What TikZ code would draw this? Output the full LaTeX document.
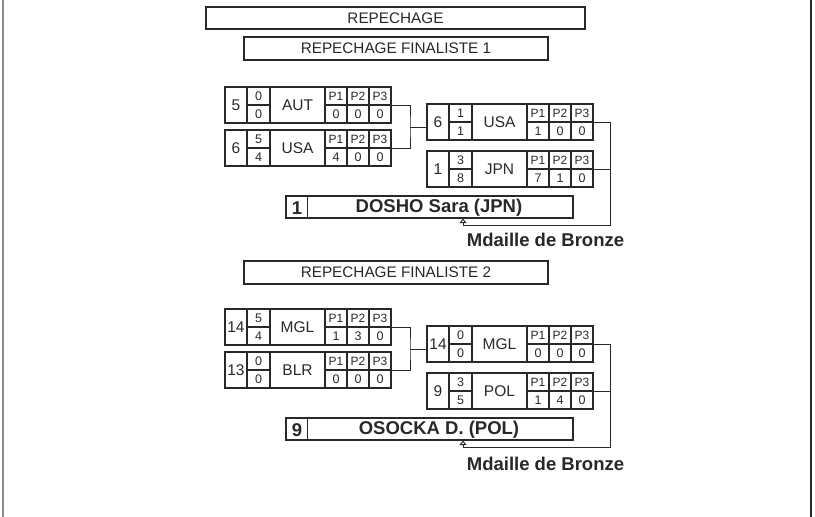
\documentclass[tikz,border=0pt]{standalone}
\usepackage{fontspec}
\setmainfont{Liberation Sans}
\usetikzlibrary{arrows.meta, positioning}
\definecolor{inkgray}{RGB}{40,40,40}
\definecolor{edgegray}{RGB}{140,140,140}
\tikzset{
  titlebox/.style={rectangle, draw=inkgray, line width=1.6pt, inner sep=0pt,
    text=inkgray, font=\fontsize{15.3}{15}\selectfont},
  matchframe/.style={rectangle, draw=inkgray, line width=1.1pt, inner sep=0pt,
    outer sep=0pt, minimum width=166pt, minimum height=36pt},
  cell/.style={draw=inkgray, line width=1.1pt},
  seedtext/.style={inner sep=0pt, text=inkgray, font=\fontsize{15.5}{15}\selectfont},
  scoretext/.style={inner sep=0pt, text=inkgray, font=\fontsize{12.5}{12}\selectfont},
  nationtext/.style={inner sep=0pt, text=inkgray, font=\fontsize{15.5}{15}\selectfont},
  ptext/.style={inner sep=0pt, text=inkgray, font=\fontsize{12}{12}\selectfont},
  winnerbox/.style={rectangle, draw=inkgray, line width=1.1pt, inner sep=0pt,
    minimum width=287pt, minimum height=22pt},
  winnertext/.style={inner sep=0pt, text=inkgray, font=\fontsize{18.5}{18}\selectfont\bfseries},
  medaltext/.style={inner sep=0pt, text=inkgray, font=\fontsize{18.5}{18}\selectfont\bfseries},
  link/.style={draw=inkgray, line width=0.9pt},
  bronzearrow/.style={link, -{Triangle[open, length=4.5pt, width=7pt]}},
}
% #1 name, #2 north west corner, #3 seed, #4/#5 scores, #6 nation, #7-#9 P1-P3
\newcommand{\matchbox}[9]{%
  \begin{scope}[shift={#2}]
    \node[matchframe, anchor=north west] (#1) at (0,0) {};
    \draw[cell] (22,0) -- (22,36) (45,0) -- (45,36) (100,0) -- (100,36)
      (122,0) -- (122,36) (144,0) -- (144,36)
      (22,18) -- (45,18) (100,18) -- (166,18);
    \node[seedtext] (#1-seed) at (11,18) {#3};
    \node[scoretext] (#1-up) at (33.5,9.5) {#4};
    \node[scoretext] (#1-down) at (33.5,27.5) {#5};
    \node[nationtext] (#1-nat) at (72.5,18) {#6};
    \node[ptext] (#1-pa) at (111,9.5) {P1};
    \node[ptext] (#1-pb) at (133,9.5) {P2};
    \node[ptext] (#1-pc) at (155,9.5) {P3};
    \node[scoretext] (#1-va) at (111,27.5) {#7};
    \node[scoretext] (#1-vb) at (133,27.5) {#8};
    \node[scoretext] (#1-vc) at (155,27.5) {#9};
  \end{scope}}

\begin{document}
\begin{tikzpicture}[x=1pt, y=-1pt]
  \useasboundingbox (0,0) rectangle (815,517);
  \draw[edgegray, line width=1.2pt] (3,0) -- (3,517);
  \draw[inkgray, line width=1.2pt] (811,0) -- (811,517);

  \node[titlebox, minimum width=379pt, minimum height=22pt] (rep) at (395.5,18) {REPECHAGE};

  % finaliste 1
  \node[titlebox, minimum width=304pt, minimum height=23pt] (fin1) at (396,48.5) {REPECHAGE FINALISTE 1};
  \matchbox{q1a}{(225,87)}{5}{0}{0}{AUT}{0}{0}{0}
  \matchbox{q1b}{(225,130)}{6}{5}{4}{USA}{4}{0}{0}
  \matchbox{f1a}{(427,104)}{6}{1}{1}{USA}{1}{0}{0}
  \matchbox{f1b}{(427,151)}{1}{3}{8}{JPN}{7}{1}{0}
  \node[winnerbox] (win1) at (429.5,207) {};
  \draw[cell] ([xshift=22pt]win1.north west) -- ([xshift=22pt]win1.south west);
  \node[winnertext] (win1-seed) at (297,208) {1};
  \node[winnertext] (win1-name) at (439,208) {DOSHO Sara (JPN)};
  \node[medaltext] (medal1) at (545.5,240) {Mdaille de Bronze};
  \coordinate (j1) at (410,127);
  \coordinate (k1) at (610,225);
  \coordinate (drop1) at (463,225);
  \draw[link] (q1a.east) -| (j1) |- (q1b.east);
  \draw[link] (j1) -- (j1 -| f1a.west);
  \draw[link] (f1a.east) -| (k1) -- (drop1);
  \draw[link] (f1b.east) -- (f1b.east -| k1);
  \draw[bronzearrow] (drop1) -- (drop1 |- win1.south);

  % finaliste 2
  \begin{scope}[shift={(0,222)}]
    \node[titlebox, minimum width=304pt, minimum height=23pt] (fin2) at (396,50.5) {REPECHAGE FINALISTE 2};
    \matchbox{q2a}{(225,87)}{14}{5}{4}{MGL}{1}{3}{0}
    \matchbox{q2b}{(225,130)}{13}{0}{0}{BLR}{0}{0}{0}
    \matchbox{f2a}{(427,104)}{14}{0}{0}{MGL}{0}{0}{0}
    \matchbox{f2b}{(427,151)}{9}{3}{5}{POL}{1}{4}{0}
    \node[winnerbox] (win2) at (429.5,207) {};
    \draw[cell] ([xshift=22pt]win2.north west) -- ([xshift=22pt]win2.south west);
    \node[winnertext] (win2-seed) at (297,208) {9};
    \node[winnertext] (win2-name) at (439,208) {OSOCKA D. (POL)};
    \node[medaltext] (medal2) at (545.5,242) {Mdaille de Bronze};
    \coordinate (j2) at (410,127);
    \coordinate (k2) at (610,225);
    \coordinate (drop2) at (463,225);
    \draw[link] (q2a.east) -| (j2) |- (q2b.east);
    \draw[link] (j2) -- (j2 -| f2a.west);
    \draw[link] (f2a.east) -| (k2) -- (drop2);
    \draw[link] (f2b.east) -- (f2b.east -| k2);
    \draw[bronzearrow] (drop2) -- (drop2 |- win2.south);
  \end{scope}
\end{tikzpicture}
\end{document}
